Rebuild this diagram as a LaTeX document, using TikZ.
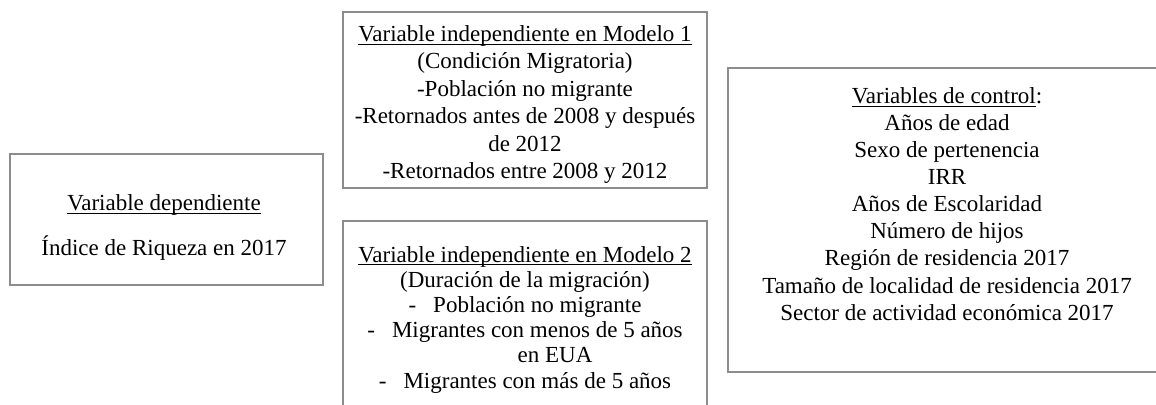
\documentclass[tikz,border=0pt]{standalone}
\usepackage{fontspec}
\setmainfont{Liberation Serif}
\definecolor{boxgray}{HTML}{8C8C8C}
\tikzset{
  varbox/.style={draw=boxgray, line width=0.75pt, rectangle, inner sep=0pt},
  vartext/.style={align=center, inner sep=0pt, font=\fontsize{11.5}{13.7}\selectfont}
}
\newcommand{\listdash}{-\hspace{8.5pt}}
\newcommand{\headline}[1]{\underline{\smash{#1}}}
\begin{document}
\begin{tikzpicture}[x=0.5pt, y=-0.5pt]
  \useasboundingbox (0,0) rectangle (1156,405);
  \clip (0,0) rectangle (1156,405);
  % boxes
  \node[varbox, minimum width=156.5pt, minimum height=65.5pt] (dep) at (166.5,219.5) {};
  \node[varbox, minimum width=182pt, minimum height=88pt] (indepa) at (525,100) {};
  \node[varbox, minimum width=182pt, minimum height=100pt] (indepb) at (525,321) {};
  \node[varbox, minimum width=219pt, minimum height=152pt] (ctrl) at (947,220) {};
  % texts
  \node[vartext, anchor=base] (deptxt) at (164,211) {\headline{Variable dependiente}};
  \node[vartext, anchor=base] (depval) at (164,256) {Índice de Riqueza en 2017};
  \node[vartext, anchor=north] (indepatxt) at (525,22) {\strut\headline{Variable independiente en Modelo 1}\\
    (Condición Migratoria)\\
    -Población no migrante\\
    -Retornados antes de 2008 y después\\
    de 2012\\
    -Retornados entre 2008 y 2012};
  \node[vartext, anchor=north, font=\fontsize{11.5}{12.6}\selectfont] (indepbtxt) at (525,244) {\strut\headline{Variable independiente en Modelo 2}\\
    (Duración de la migración)\\
    \listdash Población no migrante\\
    \listdash Migrantes con menos de 5 años\\
    \hspace*{30pt}en EUA\\
    \listdash Migrantes con más de 5 años};
  \node[vartext, anchor=north, font=\fontsize{11.5}{13.55}\selectfont] (ctrltxt) at (947,84) {\strut\headline{Variables de control}:\\
    Años de edad\\
    Sexo de pertenencia\\
    IRR\\
    Años de Escolaridad\\
    Número de hijos\\
    Región de residencia 2017\\
    Tamaño de localidad de residencia 2017\\
    Sector de actividad económica 2017};
\end{tikzpicture}
\end{document}
